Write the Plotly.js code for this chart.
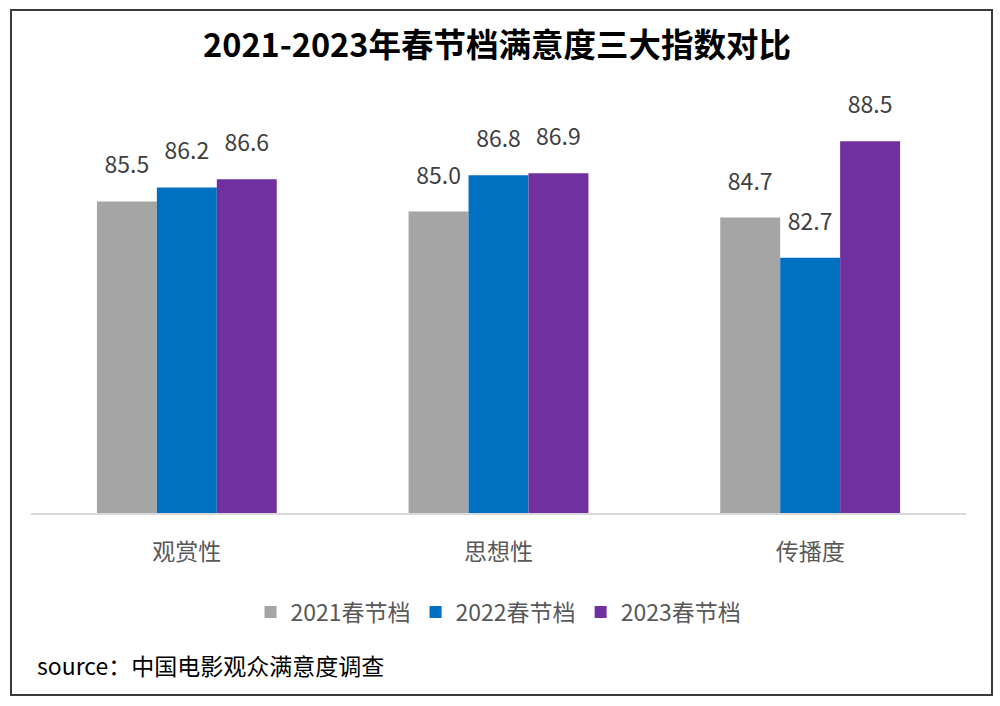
<!DOCTYPE html>
<html>
    <head>
        <meta charset="utf-8">
        <script src="https://cdn.plot.ly/plotly-3.0.1.min.js"></script>
        <style>
            body { margin: 0; background: #fff; }
            #frame { position: absolute; left: 10px; top: 9px; width: 979px; height: 683px;
                     border: 2px solid #3a3a3a; pointer-events: none; }
        </style>
    </head>
    <body>
        <div id="plot" style="width:1000px;height:706px;"></div>
        <div id="frame"></div>
        <script type="text/javascript">
            var categories = ['观赏性', '思想性', '传播度'];
            var seriesNames = ['2021春节档', '2022春节档', '2023春节档'];
            var values2021 = [85.5, 85.0, 84.7];
            var values2022 = [86.2, 86.8, 82.7];
            var values2023 = [86.6, 86.9, 88.5];
            var colors = ['#a5a5a5', '#0070c0', '#7030a0'];

            var font = '"Noto Sans CJK SC", "Noto Sans", sans-serif';
            var allValues = [values2021, values2022, values2023];

            var traces = allValues.map(function(vals, i) {
                return {
                    type: 'bar',
                    name: seriesNames[i],
                    x: categories,
                    y: vals,
                    marker: {color: colors[i]},
                    hoverinfo: 'none'
                };
            });

            // value labels: invisible grouped markers push the text up off the bar tops
            allValues.forEach(function(vals, i) {
                traces.push({
                    type: 'scatter',
                    mode: 'markers+text',
                    x: categories,
                    y: vals,
                    orientation: 'v',
                    marker: {size: 34, opacity: 0},
                    text: vals.map(function(v) { return v.toFixed(1); }),
                    textposition: 'top center',
                    textfont: {family: font, size: 23, color: '#404040'},
                    cliponaxis: false,
                    showlegend: false,
                    hoverinfo: 'none'
                });
            });

            var layout = {
                width: 1000,
                height: 706,
                font: {family: font},
                paper_bgcolor: '#fff',
                plot_bgcolor: '#fff',
                margin: {l: 31, r: 34, t: 107, b: 193},
                title: {
                    text: '2021-2023年春节档满意度三大指数对比',
                    font: {family: font, size: 32.5, color: '#000', weight: 'bold'},
                    x: 0.497, xanchor: 'center',
                    yref: 'container', y: 0.935, yanchor: 'middle'
                },
                barmode: 'group',
                bargap: 0.423,
                bargroupgap: 0,
                scattermode: 'group',
                scattergap: 0.423,
                xaxis: {
                    showline: true,
                    linecolor: '#d9d9d9',
                    linewidth: 1.5,
                    ticks: '',
                    ticklabelstandoff: 18,
                    tickfont: {family: font, size: 23, color: '#595959'},
                    fixedrange: true
                },
                yaxis: {
                    range: [70, 90.2],
                    visible: false,
                    fixedrange: true
                },
                showlegend: true,
                legend: {
                    orientation: 'h',
                    x: 0.5, xanchor: 'center',
                    yref: 'container', y: 0.133, yanchor: 'middle',
                    font: {family: font, size: 23, color: '#595959'},
                    itemclick: false
                },
                annotations: [{
                    text: 'source：中国电影观众满意度调查',
                    xref: 'paper', yref: 'paper',
                    x: 0.004, xanchor: 'left',
                    y: -0.374, yanchor: 'middle',
                    showarrow: false,
                    font: {family: font, size: 23, color: '#000'}
                }]
            };

            Plotly.newPlot('plot', traces, layout, {displayModeBar: false, staticPlot: true});
        </script>
    </body>
</html>
